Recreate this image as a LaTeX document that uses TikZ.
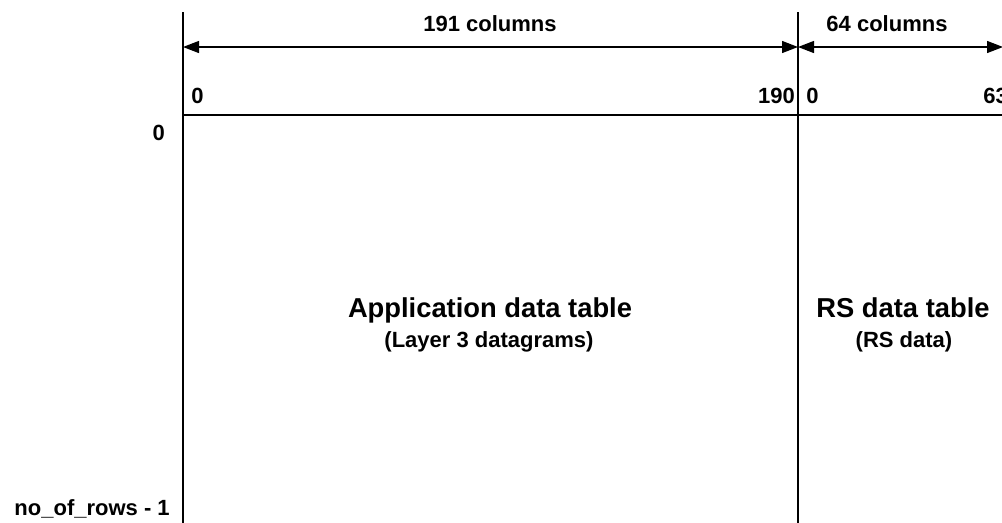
\documentclass[tikz,border=0pt]{standalone}
\usepackage{fontspec}
\setmainfont{Liberation Sans}
\usetikzlibrary{arrows.meta}
\begin{document}
\begin{tikzpicture}[x=0.75pt,y=-0.75pt,
  thinline/.style={line width=1pt},
  thickline/.style={line width=2pt},
  tip/.tip={Triangle[length=12pt,width=9pt]},
  dimline/.style={line width=1pt},
  lbl/.style={font=\fontsize{16.5}{18}\selectfont\bfseries, inner sep=0pt},
  big/.style={font=\fontsize{20.5}{22}\selectfont\bfseries, inner sep=0pt}]
\useasboundingbox (0,0) rectangle (1002,522);
% frame coordinates
\coordinate (LT) at (183,12);
\coordinate (LH) at (183,115);
\coordinate (LB) at (183,523);
\coordinate (MT) at (798,12);
\coordinate (MH) at (798,115);
\coordinate (MB) at (798,523);
\coordinate (RH) at (1003,115);
\coordinate (AL) at (183,47);
\coordinate (AM) at (798,47);
\coordinate (AR) at (1003,47);
% lines
\draw[thinline] (LT) -- (LH);
\draw[thinline] (MT) -- (MH);
\draw[thickline] (LH) -- (LB);
\draw[thickline] (MH) -- (MB);
\draw[thickline] ([xshift=-0.75pt]LH) -- (RH);
% dimension arrows
\draw[dimline,tip-tip] (AL) -- (AM);
\draw[dimline,tip-tip] (AM) -- (AR);
% labels
\node[lbl,anchor=base] (c191) at (490,31) {191 columns};
\node[lbl,anchor=base] (c64) at (887,31) {64 columns};
\node[lbl,anchor=base west] (a0) at (191,103) {0};
\node[lbl,anchor=base east] (a190) at (795,103) {190};
\node[lbl,anchor=base west] (b0) at (806,103) {0};
\node[lbl,anchor=base west] (b63) at (983,103) {63};
\node[lbl,anchor=base east] (r0) at (165,140) {0};
\node[lbl,anchor=base east] (rn) at (170,515) {no\_of\_rows - 1};
\node[big,anchor=base] (app) at (490,317) {Application data table};
\node[lbl,anchor=base] (appsub) at (489,347) {(Layer 3 datagrams)};
\node[big,anchor=base] (rs) at (903,317) {RS data table};
\node[lbl,anchor=base] (rssub) at (904,347) {(RS data)};
\end{tikzpicture}
\end{document}
